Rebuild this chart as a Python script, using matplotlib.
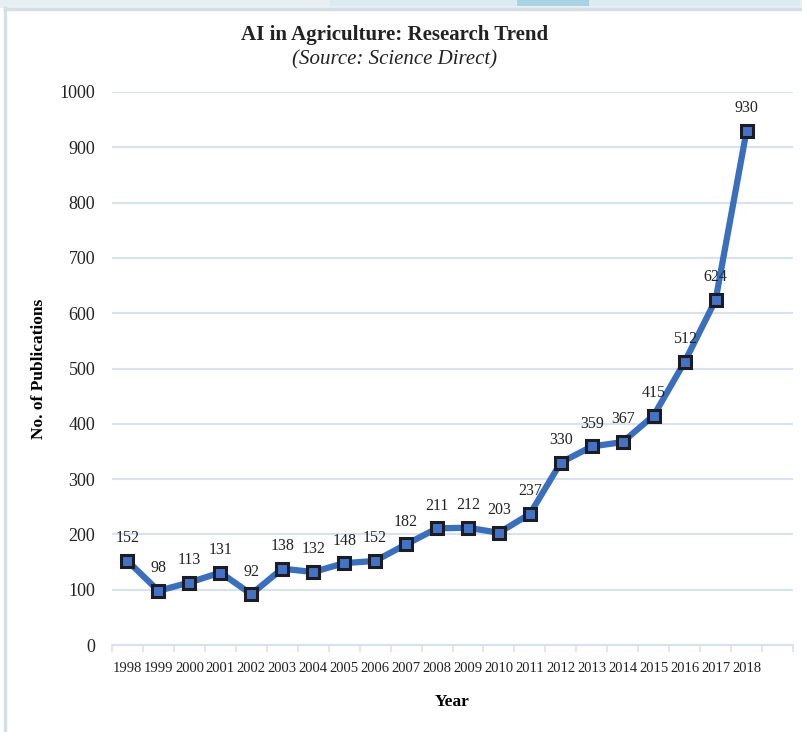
import matplotlib
matplotlib.use("Agg")
import matplotlib.pyplot as plt
from matplotlib.lines import Line2D
from matplotlib.patches import Rectangle

years = [str(y) for y in range(1998, 2019)]
publications = [152, 98, 113, 131, 92, 138, 132, 148, 152, 182, 211,
                212, 203, 237, 330, 359, 367, 415, 512, 624, 930]

plt.rcParams["font.family"] = ["Liberation Serif", "DejaVu Serif"]

W, H = 802, 732
fig = plt.figure(figsize=(W / 100, H / 100), dpi=100)
ax = fig.add_axes([112 / W, 1 - 645 / H, (793 - 112) / W, (645 - 92) / H])

grid_c = "#d9e2ea"
line_c = "#3a6fbd"

x = list(range(len(years)))
ax.plot(x, publications, color=line_c, lw=4.5, zorder=3, solid_joinstyle="round")
ax.plot(x, publications, ls="none", marker="s", ms=8.5, mfc="#4472c4",
        mec="#1c1c24", mew=2.2, zorder=4)
for xi, v in zip(x, publications):
    ax.annotate(str(v), (xi, v), xytext=(0, 10.5), textcoords="offset points",
                ha="center", va="bottom", fontsize=11.5, color="#222222")

ax.set_xlim(-0.5, len(years) + 0.5)
ax.set_ylim(0, 1000)
ax.set_yticks(range(0, 1001, 100))
ax.tick_params(axis="y", length=0, pad=12, labelsize=13, colors="#222222")
ax.set_xticks(x)
ax.set_xticklabels(years)
ax.tick_params(axis="x", length=0, pad=12, labelsize=10.5, colors="#222222")
ax.set_xticks([i - 0.5 for i in range(len(years) + 2)], minor=True)
ax.tick_params(axis="x", which="minor", length=5, width=1.2, color=grid_c)
ax.grid(axis="y", color=grid_c, lw=1.5)
ax.set_axisbelow(True)
for s in ["top", "right", "left"]:
    ax.spines[s].set_visible(False)
ax.spines["bottom"].set_color(grid_c)
ax.spines["bottom"].set_linewidth(1.5)

ax.set_ylabel("No. of Publications", fontsize=12.5, fontweight="bold", labelpad=9)
ax.set_xlabel("Year", fontsize=12.5, fontweight="bold", labelpad=14)

fig.text(395 / W, 1 - 35 / H, "AI in Agriculture: Research Trend", ha="center",
         va="center", fontsize=15, fontweight="bold", color="#222222")
fig.text(395 / W, 1 - 60 / H, "(Source: Science Direct)", ha="center",
         va="center", fontsize=15, style="italic", color="#222222")

# frame decoration
fig.add_artist(Rectangle((0, 1 - 8 / H), 1, 8 / H, transform=fig.transFigure,
                         color="#e8eff3", lw=0))
fig.add_artist(Rectangle((330 / W, 1 - 6 / H), 470 / W, 6 / H, transform=fig.transFigure,
                         color="#dcebf2", lw=0))
fig.add_artist(Rectangle((517 / W, 1 - 6 / H), 72 / W, 6 / H, transform=fig.transFigure,
                         color="#a9d2e2", lw=0))
fig.add_artist(Line2D([5 / W, 5 / W], [0, 1 - 8 / H], transform=fig.transFigure,
                      color="#d6dee5", lw=2.5))
fig.add_artist(Line2D([5 / W, 1], [1 - 9 / H, 1 - 9 / H], transform=fig.transFigure,
                      color="#d6dee5", lw=2.5))

fig.savefig("out.png", dpi=100)
